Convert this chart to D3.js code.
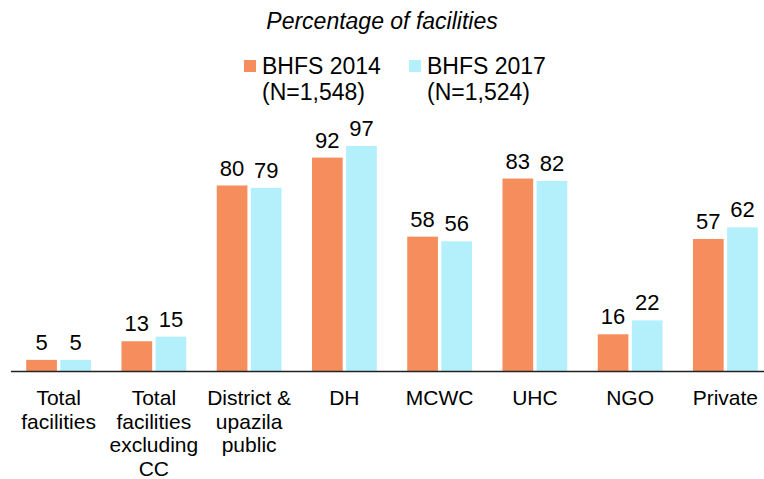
<!DOCTYPE html>
<html>
<head>
<meta charset="utf-8">
<script src="https://cdn.jsdelivr.net/npm/d3@7"></script>
<style>
  body { margin: 0; background: #fff; }
  svg { display: block; font-family: "Liberation Sans", Arial, sans-serif; }
</style>
</head>
<body>
<div id="chart"></div>
<script>
const categories = [
  ["Total", "facilities"],
  ["Total", "facilities", "excluding", "CC"],
  ["District &", "upazila", "public"],
  ["DH"],
  ["MCWC"],
  ["UHC"],
  ["NGO"],
  ["Private"]
];
const series = ["BHFS 2014", "BHFS 2017"];
const seriesN = ["(N=1,548)", "(N=1,524)"];
const values2014 = [5, 13, 80, 92, 58, 83, 16, 57];
const values2017 = [5, 15, 79, 97, 56, 82, 22, 62];
const colors = ["#F58E5C", "#B4F0FC"];

const width = 764, height = 479;
const baseY = 371.5;

const svg = d3.select("#chart").append("svg")
  .attr("width", width)
  .attr("height", height);

const keys = categories.map((c, i) => "c" + i);

const x0 = d3.scaleBand()
  .domain(keys)
  .range([11, 773])
  .paddingInner(0.32)
  .paddingOuter(0.16);

const x1 = d3.scaleBand()
  .domain(series)
  .range([0, x0.bandwidth()])
  .paddingInner(0.1);

const y = d3.scaleLinear()
  .domain([0, 100])
  .range([baseY, baseY - 232.5]);

const data = keys.map((k, i) => ({
  key: k,
  vals: [values2014[i], values2017[i]]
}));

// title
svg.append("text")
  .attr("x", 382)
  .attr("y", 29)
  .attr("text-anchor", "middle")
  .style("font-style", "italic")
  .style("font-size", "23px")
  .text("Percentage of facilities");

// legend
const legendX = [244, 409];
series.forEach((s, i) => {
  const g = svg.append("g").attr("transform", "translate(" + legendX[i] + ",0)");
  g.append("rect")
    .attr("x", 0).attr("y", 60)
    .attr("width", 12).attr("height", 12)
    .attr("fill", colors[i]);
  g.append("text")
    .attr("x", 18).attr("y", 74)
    .style("font-size", "23px")
    .text(s);
  g.append("text")
    .attr("x", 18).attr("y", 100)
    .style("font-size", "23px")
    .text(seriesN[i]);
});

// bars
const groups = svg.append("g").selectAll("g")
  .data(data)
  .join("g")
  .attr("transform", d => "translate(" + x0(d.key) + ",0)");

groups.selectAll("rect")
  .data(d => d.vals.map((v, j) => ({ s: series[j], v: v, j: j })))
  .join("rect")
  .attr("x", d => x1(d.s))
  .attr("y", d => y(d.v))
  .attr("width", x1.bandwidth())
  .attr("height", d => baseY - y(d.v))
  .attr("fill", d => colors[d.j]);

groups.selectAll("text.val")
  .data(d => d.vals.map((v, j) => ({ s: series[j], v: v })))
  .join("text")
  .attr("class", "val")
  .attr("x", d => x1(d.s) + x1.bandwidth() / 2)
  .attr("y", d => y(d.v) - 10)
  .attr("text-anchor", "middle")
  .style("font-size", "22px")
  .text(d => d.v);

// axis line
svg.append("line")
  .attr("x1", 11).attr("x2", width)
  .attr("y1", baseY).attr("y2", baseY)
  .attr("stroke", "#222")
  .attr("stroke-width", 1.3);

// category labels
const labels = svg.append("g").selectAll("text")
  .data(keys)
  .join("text")
  .attr("x", d => x0(d) + x0.bandwidth() / 2)
  .attr("y", 405)
  .attr("text-anchor", "middle")
  .style("font-size", "21px");

labels.each(function(k, i) {
  const t = d3.select(this);
  categories[i].forEach((line, li) => {
    t.append("tspan")
      .attr("x", x0(k) + x0.bandwidth() / 2)
      .attr("dy", li === 0 ? 0 : 23.6)
      .text(line);
  });
});
</script>
</body>
</html>
